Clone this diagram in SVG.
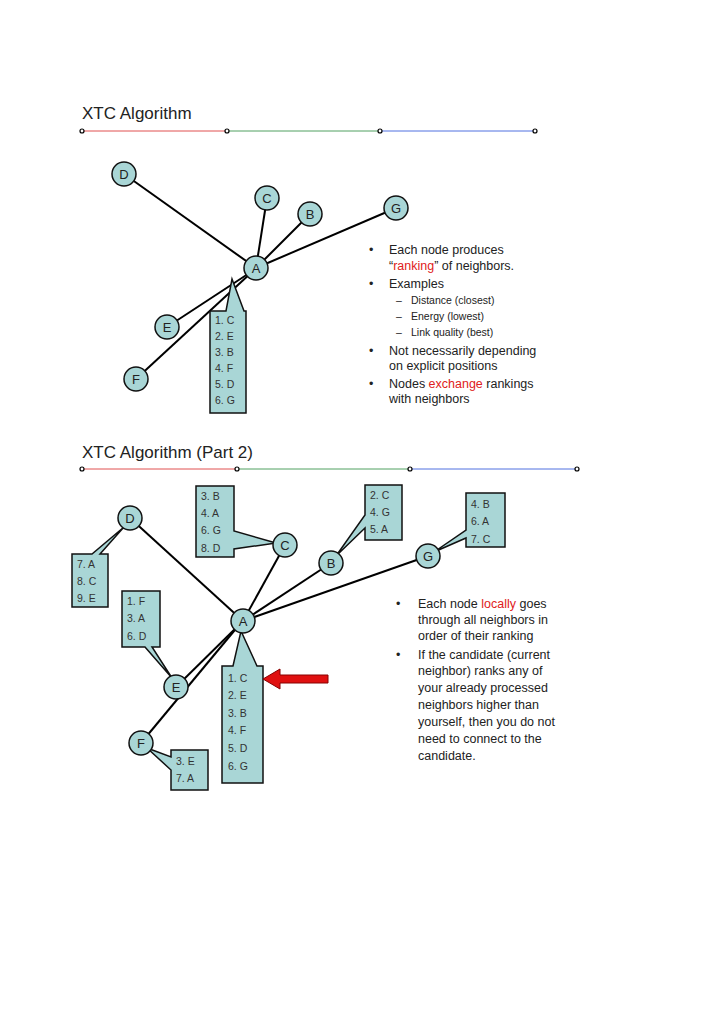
<svg xmlns="http://www.w3.org/2000/svg" width="728" height="1030" viewBox="0 0 728 1030">
<style>
text{font-family:"Liberation Sans",Arial,sans-serif;fill:#222}
.t{font-size:17px}
.b{font-size:12.5px}
.s{font-size:10.5px}
.l{font-size:10.5px;fill:#333}
.n circle{fill:#a9d6d6;stroke:#111;stroke-width:1.5}
.n text{font-size:13px;text-anchor:middle}
.box{fill:#a9d6d6;stroke:#111;stroke-width:1.5}
.e line{stroke:#000;stroke-width:2}
.dot{fill:#fff;stroke:#000;stroke-width:1.2}
</style>
<rect width="728" height="1030" fill="#fff"/>
<!-- Part 1 -->
<text class="t" x="82" y="119">XTC Algorithm</text>
<g id="bar1">
<line x1="82" y1="131" x2="227" y2="131" stroke="#e05050"/>
<line x1="227" y1="131" x2="380" y2="131" stroke="#50a060"/>
<line x1="380" y1="131" x2="535" y2="131" stroke="#5070e0"/>
<circle class="dot" cx="82" cy="131" r="2"/><circle class="dot" cx="227" cy="131" r="2"/><circle class="dot" cx="380" cy="131" r="2"/><circle class="dot" cx="535" cy="131" r="2"/>
</g>
<g id="edges1" class="e">
<line x1="256" y1="268" x2="124" y2="174"/>
<line x1="256" y1="268" x2="267" y2="198"/>
<line x1="256" y1="268" x2="310" y2="214"/>
<line x1="256" y1="268" x2="396" y2="208"/>
<line x1="254" y1="270" x2="167" y2="327"/>
<line x1="252" y1="272" x2="136" y2="379"/>
</g>
<g id="A1box"><path class="box" d="M210 311 H226 L232 279 L244 311 H246 V413 H210 Z"/>
<text class="l" x="215" y="324">1. C</text><text class="l" x="215" y="340">2. E</text><text class="l" x="215" y="356">3. B</text><text class="l" x="215" y="372">4. F</text><text class="l" x="215" y="388">5. D</text><text class="l" x="215" y="404">6. G</text></g>
<g id="D1" class="n"><circle cx="124" cy="174" r="12"/><text x="124" y="179">D</text></g>
<g id="C1" class="n"><circle cx="267" cy="198" r="12"/><text x="267" y="203">C</text></g>
<g id="B1" class="n"><circle cx="310" cy="214" r="12"/><text x="310" y="219">B</text></g>
<g id="G1" class="n"><circle cx="396" cy="208" r="12"/><text x="396" y="213">G</text></g>
<g id="A1" class="n"><circle cx="256" cy="268" r="12"/><text x="256" y="273">A</text></g>
<g id="E1" class="n"><circle cx="167" cy="327" r="12"/><text x="167" y="332">E</text></g>
<g id="F1" class="n"><circle cx="136" cy="379" r="12"/><text x="136" y="384">F</text></g>
<g id="text1" class="b">
<text x="369" y="254">•</text><text x="389" y="254">Each node produces</text>
<text x="389" y="270">“<tspan fill="#e02020">ranking</tspan>” of neighbors.</text>
<text x="369" y="288">•</text><text x="389" y="288">Examples</text>
<text class="s" x="396" y="304">–</text><text class="s" x="411" y="304">Distance (closest)</text>
<text class="s" x="396" y="320">–</text><text class="s" x="411" y="320">Energy (lowest)</text>
<text class="s" x="396" y="336">–</text><text class="s" x="411" y="336">Link quality (best)</text>
<text x="369" y="355">•</text><text x="389" y="355">Not necessarily depending</text>
<text x="389" y="370">on explicit positions</text>
<text x="369" y="388">•</text><text x="389" y="388">Nodes <tspan fill="#e02020">exchange</tspan> rankings</text>
<text x="389" y="403">with neighbors</text>
</g>
<!-- Part 2 -->
<text class="t" x="82" y="458">XTC Algorithm (Part 2)</text>
<g id="bar2">
<line x1="82" y1="469" x2="237" y2="469" stroke="#e05050"/>
<line x1="237" y1="469" x2="410" y2="469" stroke="#50a060"/>
<line x1="410" y1="469" x2="577" y2="469" stroke="#5070e0"/>
<circle class="dot" cx="82" cy="469" r="2"/><circle class="dot" cx="237" cy="469" r="2"/><circle class="dot" cx="410" cy="469" r="2"/><circle class="dot" cx="577" cy="469" r="2"/>
</g>
<g id="edges2" class="e">
<line x1="243" y1="621" x2="130" y2="518"/>
<line x1="243" y1="621" x2="285" y2="545"/>
<line x1="243" y1="621" x2="331" y2="563"/>
<line x1="243" y1="621" x2="428" y2="556"/>
<line x1="241" y1="623" x2="176" y2="687"/>
<line x1="239" y1="625" x2="141" y2="743"/>
</g>
<g id="Dbox"><path class="box" d="M72 554 H92 L124 527 L100 554 H108 V607 H72 Z"/>
<text class="l" x="77" y="568">7. A</text><text class="l" x="77" y="585">8. C</text><text class="l" x="77" y="602">9. E</text></g>
<g id="Cbox"><path class="box" d="M196 486 H234 V531 L276 543 L234 549 V557 H196 Z"/>
<text class="l" x="201" y="500">3. B</text><text class="l" x="201" y="517">4. A</text><text class="l" x="201" y="534">6. G</text><text class="l" x="201" y="552">8. D</text></g>
<g id="Bbox"><path class="box" d="M365 485 H402 V540 H365 V528 L336 556 L365 515 Z"/>
<text class="l" x="370" y="499">2. C</text><text class="l" x="370" y="516">4. G</text><text class="l" x="370" y="533">5. A</text></g>
<g id="Gbox"><path class="box" d="M466 493 H505 V547 H466 V538 L434 552 L466 530 Z"/>
<text class="l" x="471" y="508">4. B</text><text class="l" x="471" y="525">6. A</text><text class="l" x="471" y="543">7. C</text></g>
<g id="Ebox"><path class="box" d="M122 591 H160 V647 H152 L172 678 L145 647 H122 Z"/>
<text class="l" x="127" y="605">1. F</text><text class="l" x="127" y="622">3. A</text><text class="l" x="127" y="640">6. D</text></g>
<g id="Fbox"><path class="box" d="M171 750 H208 V790 H171 V770 L147 748 L171 757 Z"/>
<text class="l" x="176" y="765">3. E</text><text class="l" x="176" y="782">7. A</text></g>
<g id="Abox"><path class="box" d="M222 666 H233 L241 631 L257 666 H263 V783 H222 Z"/>
<text class="l" x="228" y="682">1. C</text><text class="l" x="228" y="699">2. E</text><text class="l" x="228" y="717">3. B</text><text class="l" x="228" y="734">4. F</text><text class="l" x="228" y="752">5. D</text><text class="l" x="228" y="770">6. G</text></g>
<g id="D2" class="n"><circle cx="130" cy="518" r="12"/><text x="130" y="523">D</text></g>
<g id="C2" class="n"><circle cx="285" cy="545" r="12"/><text x="285" y="550">C</text></g>
<g id="B2" class="n"><circle cx="331" cy="563" r="12"/><text x="331" y="568">B</text></g>
<g id="G2" class="n"><circle cx="428" cy="556" r="12"/><text x="428" y="561">G</text></g>
<g id="A2" class="n"><circle cx="243" cy="621" r="12"/><text x="243" y="626">A</text></g>
<g id="E2" class="n"><circle cx="176" cy="687" r="12"/><text x="176" y="692">E</text></g>
<g id="F2" class="n"><circle cx="141" cy="743" r="12"/><text x="141" y="748">F</text></g>
<g id="arrow"><path d="M328 675 H280 V669 L263 679 L280 689 V683 H328 Z" fill="#e01010" stroke="#800" stroke-width="1"/></g>
<g id="text2" class="b">
<text x="396" y="608">•</text><text x="418" y="608">Each node <tspan fill="#e02020">locally</tspan> goes</text>
<text x="418" y="624">through all neighbors in</text>
<text x="418" y="640" fill="#e02020">order of their ranking</text>
<text x="396" y="659">•</text><text x="418" y="659">If the candidate (current</text>
<text x="418" y="675">neighbor) ranks any of</text>
<text x="418" y="692">your already processed</text>
<text x="418" y="709">neighbors higher than</text>
<text x="418" y="726">yourself, then you do not</text>
<text x="418" y="743">need to connect to the</text>
<text x="418" y="760">candidate.</text>
</g>
</svg>
